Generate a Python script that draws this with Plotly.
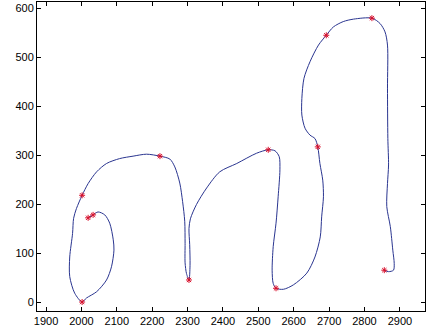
import plotly.graph_objects as go

# Pen trajectory (x, y) in tablet units
pen_x = [2019, 2033, 2047, 2066, 2080, 2090, 2092, 2085, 2071, 2043, 2014, 2002,
         1981, 1967, 1967, 1975, 1978, 1986, 2002, 2019, 2043, 2071, 2108, 2146,
         2184, 2222, 2250, 2264, 2278, 2286, 2292, 2293, 2293, 2297, 2304, 2307,
         2306, 2304, 2308, 2325, 2354, 2391, 2439, 2495, 2528, 2547, 2559, 2561,
         2556, 2550, 2542, 2539, 2542, 2550, 2571, 2599, 2637, 2660, 2675, 2679,
         2684, 2682, 2674, 2668, 2660, 2646, 2632, 2623, 2623, 2629, 2646, 2670,
         2692, 2712, 2740, 2769, 2821, 2844, 2858, 2865, 2865, 2866, 2868, 2865,
         2863, 2873, 2880, 2884, 2882, 2868, 2856]
pen_y = [172, 178, 184, 178, 161, 127, 106, 72, 45, 21, 8, 0,
         18, 52, 92, 140, 171, 191, 218, 242, 266, 283, 293, 298,
         302, 298, 292, 276, 243, 205, 165, 120, 80, 58, 45, 75,
         117, 150, 170, 199, 233, 266, 283, 304, 311, 309, 297, 270,
         215, 161, 113, 65, 38, 28, 26, 35, 59, 92, 133, 174,
         215, 249, 283, 317, 334, 341, 355, 382, 416, 457, 491, 525,
         545, 562, 573, 578, 580, 569, 552, 525, 437, 334, 280, 242,
         195, 154, 106, 79, 65, 62, 65]

# Detected key points along the stroke
key_x = [2019, 2033, 2002, 2002, 2222, 2304, 2528, 2550, 2668, 2692, 2821, 2856]
key_y = [172, 178, 0, 218, 298, 45, 311, 28, 317, 545, 580, 65]

x_ticks = [1900, 2000, 2100, 2200, 2300, 2400, 2500, 2600, 2700, 2800, 2900]
y_ticks = [0, 100, 200, 300, 400, 500, 600]

fig = go.Figure()
fig.add_trace(go.Scatter(
    x=pen_x, y=pen_y, mode="lines",
    line=dict(color="#2a3590", width=1, shape="spline", smoothing=0.8),
    hoverinfo="skip", showlegend=False,
))
fig.add_trace(go.Scatter(
    x=key_x, y=key_y, mode="markers",
    marker=dict(symbol="asterisk-open", size=5, color="#d8102c",
                line=dict(color="#d8102c", width=1)),
    showlegend=False,
))

axis_style = dict(
    showgrid=False, zeroline=False,
    showline=True, linecolor="black", linewidth=1,
    mirror="ticks", ticks="inside", ticklen=4, tickcolor="black",
    tickfont=dict(family="Liberation Sans, Arial, sans-serif", size=11, color="black"),
)
fig.update_xaxes(range=[1874.5, 2971], tickvals=x_ticks, **axis_style)
fig.update_yaxes(range=[-18.4, 613], tickvals=y_ticks, **axis_style)

fig.update_layout(
    width=427, height=336,
    margin=dict(l=37, r=2, t=2, b=25),
    paper_bgcolor="white", plot_bgcolor="white",
)

fig.write_html("out.html")
